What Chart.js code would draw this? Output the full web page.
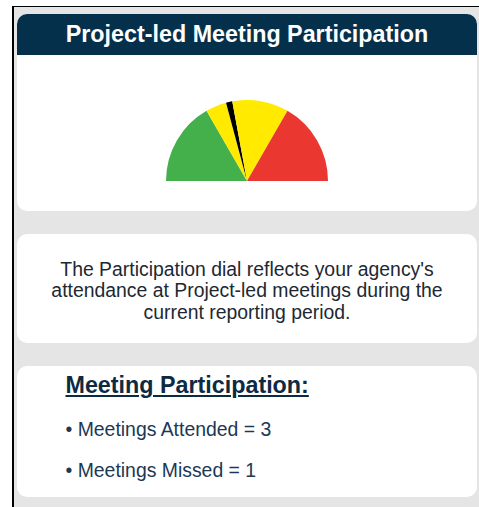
<!DOCTYPE html>
<html>
<head>
<meta charset="utf-8">
<script src="https://cdn.jsdelivr.net/npm/chart.js@4/dist/chart.umd.min.js"></script>
<style>
    html, body { margin: 0; padding: 0; background: #fff; }
    body { width: 479px; height: 507px; position: relative; overflow: hidden; font-family: Arial, "Liberation Sans", sans-serif; }
    .frame { position: absolute; left: 12px; top: 6px; right: 0; bottom: 0; background: #e5e5e5; border-left: 2px solid #000; border-top: 1px solid #000; }
    .panel { position: absolute; left: 17px; width: 460px; background: #fff; border-radius: 10px; }
    .header { position: absolute; left: 0; top: 0; width: 100%; height: 41px; background: #05304c; border-radius: 10px 10px 0 0; color: #fff; font-weight: bold; font-size: 23.3px; line-height: 27px; text-align: center; }
    .header span { position: absolute; left: 0; right: 0; top: 7px; }
    .gauge { position: absolute; left: 149px; top: 86px; width: 162px; height: 81px; }
    .desc { position: absolute; left: 0; right: 0; text-align: center; font-size: 19.4px; line-height: 21.6px; color: #1d2833; }
    .title { position: absolute; left: 48.5px; font-weight: bold; font-size: 23.3px; line-height: 27px; color: #0d2a44; text-decoration: underline; text-decoration-thickness: 1.5px; text-underline-offset: 2px; }
    .item { position: absolute; left: 48.5px; font-size: 19.4px; line-height: 21.6px; color: #1c3855; }
</style>
</head>
<body>
<div class="frame"></div>

<div class="panel" style="top:14px;height:197px;">
    <div class="header"><span>Project-led Meeting Participation</span></div>
    <div class="gauge"><canvas id="dial"></canvas></div>
</div>

<div class="panel" style="top:234px;height:109px;">
    <div class="desc" style="top:24.8px;">The Participation dial reflects your agency's<br>attendance at Project-led meetings during the<br>current reporting period.</div>
</div>

<div class="panel" style="top:366px;height:131px;">
    <div class="title" style="top:6.4px;">Meeting Participation:</div>
    <div class="item" style="top:53.2px;">&bull; Meetings Attended = 3</div>
    <div class="item" style="top:94.2px;">&bull; Meetings Missed = 1</div>
</div>

<script>
// dial slices, left to right (degrees of the half circle); the black one is the needle
const sliceLabels = ['Good', 'Fair', 'Needle', 'Fair', 'Poor'];
const sliceValues = [60, 15, 4.5, 40.5, 60];
const sliceColors = ['#43b04b', '#ffea00', '#000000', '#ffea00', '#ea372f'];

new Chart(document.getElementById('dial'), {
    type: 'doughnut',
    data: {
        labels: sliceLabels,
        datasets: [{
            data: sliceValues,
            backgroundColor: sliceColors,
            borderWidth: 0,
        }],
    },
    options: {
        responsive: true,
        maintainAspectRatio: false,
        devicePixelRatio: 1,
        animation: false,
        rotation: -90,
        circumference: 180,
        cutout: 0,
        layout: { padding: 0 },
        plugins: {
            legend: { display: false },
            tooltip: { enabled: false },
        },
    },
});
</script>
</body>
</html>
